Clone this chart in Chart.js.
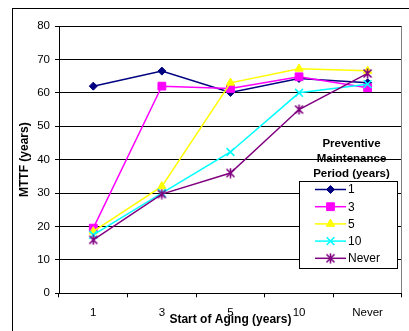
<!DOCTYPE html>
<html>
<head>
<meta charset="utf-8">
<script src="https://cdn.jsdelivr.net/npm/chart.js@4/dist/chart.umd.min.js"></script>
<style>
  html, body { margin: 0; padding: 0; background: #fff; overflow: hidden; }
  canvas { display: block; }
</style>
</head>
<body>
<canvas id="chart" width="409" height="331"></canvas>
<script>
// Start of aging (x categories)
const categories = ['1', '3', '5', '10', 'Never'];

// MTTF (years) per preventive maintenance period
const pm1     = [62.0, 66.5, 60.1, 64.3, 63.0];
const pm3     = [19.5, 62.0, 61.3, 64.8, 61.5];
const pm5     = [18.5, 32.0, 63.0, 67.2, 66.6];
const pm10    = [17.5, 30.0, 42.3, 60.0, 62.6];
const pmNever = [16.0, 29.7, 36.0, 55.0, 65.8];

const seriesLabels = ['1', '3', '5', '10', 'Never'];
const legendTitle = ['Preventive', 'Maintenance', 'Period (years)'];

// y axis range
const yMin = 0, yMax = 80, yStep = 10;

const FONT = '"Liberation Sans", Arial, sans-serif';

// Asterisk marker: an X crossed by a vertical stroke
function asteriskMarker(color) {
  const c = document.createElement('canvas');
  c.width = 11; c.height = 11;
  const g = c.getContext('2d');
  g.strokeStyle = color;
  g.lineWidth = 1.6;
  g.beginPath();
  g.moveTo(1.5, 1.5); g.lineTo(9.5, 9.5);
  g.moveTo(9.5, 1.5); g.lineTo(1.5, 9.5);
  g.moveTo(5.5, 0.5); g.lineTo(5.5, 10.5);
  g.stroke();
  return c;
}

function series(label, data, color, style, radius, order) {
  return {
    label, data,
    borderColor: color,
    backgroundColor: color,
    borderWidth: 1.5,
    pointStyle: style,
    pointRadius: radius,
    pointHoverRadius: radius,
    pointBorderWidth: style === 'crossRot' ? 1.6 : 1,
    tension: 0,
    order
  };
}

const datasets = [
  series(seriesLabels[0], pm1,     '#000080', 'rectRot',  4,   4),
  series(seriesLabels[1], pm3,     '#FF00FF', 'rect',     5.5, 3),
  series(seriesLabels[2], pm5,     '#FFFF00', 'triangle', 4.8, 2),
  series(seriesLabels[3], pm10,    '#00FFFF', 'crossRot', 5.5, 1),
  series(seriesLabels[4], pmNever, '#800080', asteriskMarker('#800080'), 5, 0)
];

// White page, outer frame and grey plot-area edge
const framePlugin = {
  id: 'frame',
  beforeDraw(chart) {
    const ctx = chart.ctx;
    ctx.save();
    ctx.fillStyle = '#fff';
    ctx.fillRect(0, 0, chart.width, chart.height);
    ctx.strokeStyle = '#000';
    ctx.lineWidth = 1;
    ctx.strokeRect(12.5, 8.5, chart.width + 20, chart.height + 20);
    ctx.restore();
  },
  beforeDatasetsDraw(chart) {
    const a = chart.chartArea;
    const ctx = chart.ctx;
    ctx.save();
    ctx.strokeStyle = '#808080';
    ctx.lineWidth = 1;
    ctx.beginPath();
    const r = Math.round(a.right) - 0.5;
    ctx.moveTo(r, Math.round(a.top) + 0.5);
    ctx.lineTo(r, Math.round(a.bottom));
    ctx.stroke();
    ctx.restore();
  }
};

// Boxed legend with its heading above it
const legendPlugin = {
  id: 'boxLegend',
  afterDraw(chart) {
    const ctx = chart.ctx;
    const box = { x: 299.5, y: 181.5, w: 98, h: 87 };
    ctx.save();
    ctx.fillStyle = '#000';
    ctx.font = 'bold 11.5px ' + FONT;
    ctx.textAlign = 'center';
    ctx.textBaseline = 'middle';
    legendTitle.forEach((t, i) => ctx.fillText(t, 351.5, 143.5 + i * 15));

    ctx.fillStyle = '#fff';
    ctx.fillRect(box.x, box.y, box.w, box.h);
    ctx.strokeStyle = '#000';
    ctx.lineWidth = 1;
    ctx.strokeRect(box.x, box.y, box.w, box.h);

    ctx.font = '12px ' + FONT;
    ctx.textAlign = 'left';
    chart.data.datasets.forEach((ds, i) => {
      const y = box.y + 8 + i * 17.2;
      ctx.strokeStyle = ds.borderColor;
      ctx.lineWidth = 1.5;
      ctx.beginPath();
      ctx.moveTo(315, y);
      ctx.lineTo(346, y);
      ctx.stroke();
      const opts = {
        pointStyle: ds.pointStyle,
        radius: ds.pointRadius,
        rotation: 0,
        borderWidth: ds.pointBorderWidth
      };
      ctx.fillStyle = ds.backgroundColor;
      ctx.strokeStyle = ds.borderColor;
      ctx.lineWidth = ds.pointBorderWidth;
      Chart.helpers.drawPoint(ctx, opts, 330.5, y);
      ctx.fillStyle = '#000';
      ctx.fillText(ds.label, 348, y + 0.5);
    });
    ctx.restore();
  }
};

new Chart(document.getElementById('chart'), {
  type: 'line',
  data: { labels: categories, datasets },
  plugins: [framePlugin, legendPlugin],
  options: {
    responsive: false,
    animation: false,
    devicePixelRatio: 1,
    layout: { padding: { top: 26, right: 2.3, bottom: 0, left: 0 } },
    plugins: {
      legend: { display: false },
      tooltip: { enabled: false }
    },
    scales: {
      x: {
        type: 'category',
        offset: true,
        grid: {
          offset: true,
          drawOnChartArea: false,
          drawTicks: true,
          tickLength: 4,
          color: '#000'
        },
        border: { color: '#000', width: 1 },
        ticks: {
          color: '#000',
          font: { family: FONT, size: 11.5 },
          padding: 9,
          maxRotation: 0,
          autoSkip: false
        },
        title: {
          display: true,
          text: 'Start of Aging (years)',
          color: '#000',
          font: { family: FONT, size: 12, weight: 'bold' },
          padding: { top: 0, bottom: 4 }
        },
        afterFit(scale) { scale.height = 37.7; }
      },
      y: {
        min: yMin,
        max: yMax,
        grid: { color: '#000', tickLength: 4, drawTicks: true },
        border: { color: '#000', width: 1 },
        ticks: {
          stepSize: yStep,
          color: '#000',
          font: { family: FONT, size: 11.5 },
          padding: 5
        },
        title: {
          display: true,
          text: 'MTTF (years)',
          color: '#000',
          font: { family: FONT, size: 12, weight: 'bold' },
          padding: { top: 17, bottom: 0 }
        },
        afterFit(scale) { scale.width = 59; }
      }
    }
  }
});
</script>
</body>
</html>
